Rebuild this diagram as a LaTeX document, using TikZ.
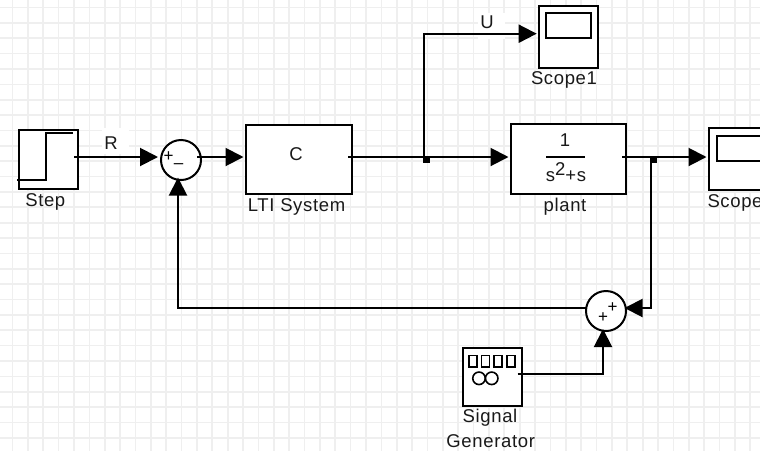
\documentclass[tikz,border=0pt]{standalone}
\usepackage{fontspec}
\setmainfont[LetterSpace=3.5]{Liberation Sans}
\usetikzlibrary{arrows.meta}
\definecolor{gridc}{HTML}{EFEFEF}
\tikzset{
  x=1pt,y=-1pt,
  blockbox/.style={draw=black,line width=2pt,fill=white,minimum width=#1,inner sep=0pt,outer sep=0pt},
  sumdot/.style={circle,draw=black,line width=2pt,fill=white,minimum size=40pt,inner sep=0pt,outer sep=0pt},
  txt/.style={inner sep=0pt,anchor=base,font=\fontsize{18.5}{20}\selectfont,text=black!90},
  sign/.style={inner sep=0pt,font=\fontsize{17}{17}\selectfont},
  conn/.style={line width=2pt,black},
  arr/.style={conn,-{Triangle[length=18pt,width=18pt]}},
  jdot/.style={fill=black,inner sep=0pt,minimum width=7pt,minimum height=6pt},
  detail/.style={draw=black,line width=2pt}
}
\begin{document}
\begin{tikzpicture}
\useasboundingbox (0,0) rectangle (760,451);
\clip (0,0) rectangle (760,451);
% grid
\foreach \i in {0,...,48} \draw[gridc,line width=1.7pt] ({12.5+15.37*\i},0) -- ({12.5+15.37*\i},451);
\foreach \j in {0,...,28} \draw[gridc,line width=1.7pt] (0,{7.5+15.37*\j}) -- (760,{7.5+15.37*\j});

% label backgrounds
\node[fill=white,minimum width=27pt,minimum height=26pt,inner sep=0pt] (rbg) at (115,141) {};
\node[fill=white,minimum width=27pt,minimum height=26pt,inner sep=0pt] (ubg) at (491.5,26) {};

% blocks
\node[blockbox=59pt,minimum height=59pt] (step) at (48.5,159.5) {};
\node[blockbox=106pt,minimum height=69.5pt] (lti) at (298.7,159.4) {};
\node[blockbox=115.5pt,minimum height=70pt] (plant) at (568.4,159.3) {};
\node[blockbox=59pt,minimum height=62.3pt] (scopeone) at (568.4,36.9) {};
\node[blockbox=60pt,minimum height=62pt] (scope) at (739,159.3) {};
\node[blockbox=59pt,minimum height=58.6pt] (gen) at (492.8,377) {};
\node[sumdot] (sumone) at (181,160) {};
\node[sumdot] (sumtwo) at (606,311) {};

% block details
\draw[line width=2pt] (17,179.5) -- (46,179.5) -- (46,132.5) -- (73,132.5);
\node[detail,minimum width=44.7pt,minimum height=24.7pt,inner sep=0pt] (scrone) at (568.4,25.4) {};
\node[detail,minimum width=46pt,minimum height=25pt,inner sep=0pt] (scr) at (739.7,148.2) {};
\foreach \x/\n in {472.7/a,485.3/b,498/c,510.7/d}
  \node[draw=black,line width=1.6pt,minimum width=8pt,minimum height=11.4pt,inner sep=0pt] (sq\n) at (\x,361) {};
\node[circle,draw=black,line width=1.6pt,minimum size=12.5pt,inner sep=0pt] (cira) at (479,378.3) {};
\node[circle,draw=black,line width=1.6pt,minimum size=12.5pt,inner sep=0pt] (cirb) at (491.7,378.3) {};

% ports and junctions
\coordinate (stepout) at (74,157);
\coordinate (sumoneinA) at (158,157);
\coordinate (sumoneinB) at (178,177.5);
\coordinate (sumoneout) at (197,157);
\coordinate (ltiin) at (243.5,157);
\coordinate (ltiout) at (348,157);
\coordinate (plantin) at (508.5,157);
\coordinate (plantout) at (622,157);
\coordinate (scopein) at (706.5,157);
\coordinate (scopeonein) at (536.7,33.7);
\coordinate (jA) at (423.7,157);
\coordinate (jB) at (650.7,157);
\coordinate (jBdown) at (650.7,308);
\coordinate (sumtwoinA) at (624.5,308);
\coordinate (sumtwoout) at (586,308);
\coordinate (fbCorner) at (178,308);
\coordinate (genout) at (517.7,374);
\coordinate (genCorner) at (603,374);
\coordinate (sumtwoinB) at (603,329);
\coordinate (uCorner) at (423.7,33.7);

% connectors
\draw[arr] (stepout) -- (sumoneinA);
\draw[arr] (sumoneout) -- (ltiin);
\draw[arr] (ltiout) -- (plantin);
\draw[arr] (plantout) -- (scopein);
\draw[arr] (jA) -- (uCorner) -- (scopeonein);
\draw[arr] (jB) -- (jBdown) -- (sumtwoinA);
\draw[arr] (sumtwoout) -- (fbCorner) -- (sumoneinB);
\draw[arr] (genout) -- (genCorner) -- (sumtwoinB);
\node[jdot] (dotA) at (426.5,160) {};
\node[jdot] (dotB) at (653.5,160) {};

% texts
\node[txt] (rlab) at (111,149) {R};
\node[txt] (ulab) at (487,28.3) {U};
\node[txt] (clab) at (296,160.7) {C};
\node[txt] at (45.3,206) {Step};
\node[txt] at (296.5,211.7) {LTI System};
\node[txt] at (564,84.7) {Scope1};
\node[txt] at (565,211.7) {plant};
\node[txt,anchor=base west] at (707.3,207.3) {Scope};
\node[txt] at (490,422.7) {Signal};
\node[txt] at (490.7,447.7) {Generator};
\node[txt] (num) at (565,146) {1};
\draw[line width=2pt] (546,157) -- (585,157);
\node[txt] (den) at (566,181) {s\raisebox{6pt}{2}+s};
\node[sign] at (168.5,157) {+};
\node[sign] at (178.5,166) {–};
\node[sign] at (612.7,308) {+};
\node[sign] at (603,317.7) {+};
\end{tikzpicture}
\end{document}
